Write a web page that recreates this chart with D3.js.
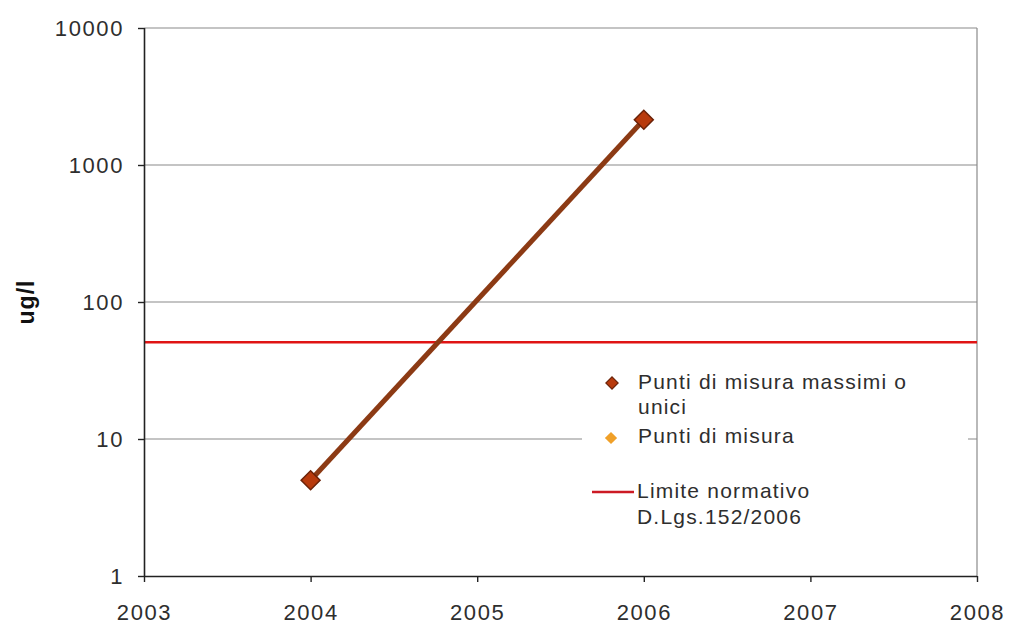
<!DOCTYPE html>
<html><head><meta charset="utf-8">
<script src="https://cdn.jsdelivr.net/npm/d3@7"></script>
<style>
html,body{margin:0;padding:0;background:#fff;}
svg{display:block;font-family:Arial,"Liberation Sans",sans-serif;}
</style></head>
<body>
<svg id="chart" width="1009" height="625"></svg>
<script>
// ---- data ----
const maxYears = [2004, 2006];
const maxValues = [5, 2140];
const otherYears = [];
const otherValues = [];
const limitValue = 50;
const xTicks = [2003, 2004, 2005, 2006, 2007, 2008];
const yTicks = [1, 10, 100, 1000, 10000];
const yTitle = "ug/l";
const legendMax = ["Punti di misura massimi o", "unici"];
const legendOther = ["Punti di misura"];
const legendLimit = ["Limite normativo", "D.Lgs.152/2006"];

const svg = d3.select("#chart");
const L = 144, R = 977, T = 28, B = 576;
const x = d3.scaleLinear().domain([2003, 2008]).range([L, R]);
const y = d3.scaleLog().domain([1, 10000]).range([B, T]);

const textCol = "#2e2e2e";
const brown = "#8c3a14";
const markerFill = "#b83a0c";
const markerStroke = "#6b2208";
const orange = "#f0a028";
const red = "#e01414";

// gridlines
svg.append("g").selectAll("line").data(yTicks.filter(d => d > 1)).join("line")
  .attr("x1", L).attr("x2", R)
  .attr("y1", d => y(d)).attr("y2", d => y(d))
  .attr("stroke", "#8a8a8a").attr("stroke-width", 1.2);
// right border
svg.append("line").attr("x1", R).attr("x2", R).attr("y1", T).attr("y2", B)
  .attr("stroke", "#8a8a8a").attr("stroke-width", 1.2);

// legend background (covers gridline)
const lg = svg.append("g");
lg.append("rect").attr("x", 582).attr("y", 362).attr("width", 386).attr("height", 173).attr("fill", "#fff");

// limit line
svg.append("line").attr("x1", L).attr("x2", R)
  .attr("y1", y(limitValue) - 1).attr("y2", y(limitValue) - 1)
  .attr("stroke", red).attr("stroke-width", 2.5);

// axes
const yAxis = d3.axisLeft(y).tickValues(yTicks).tickFormat(d3.format("d")).tickSize(6).tickPadding(14);
const gy = svg.append("g").attr("transform", `translate(${L},0)`).call(yAxis);
const xAxis = d3.axisBottom(x).tickValues(xTicks).tickFormat(d3.format("d")).tickSize(6).tickPadding(22);
const gx = svg.append("g").attr("transform", `translate(0,${B})`).call(xAxis);
[gy, gx].forEach(g => {
  g.select(".domain").attr("stroke", "#222").attr("stroke-width", 1.6);
  g.selectAll(".tick line").attr("stroke", "#222").attr("stroke-width", 1.4);
  g.selectAll(".tick text").attr("fill", textCol).attr("font-size", 22)
    .attr("font-family", "Arial, 'Liberation Sans', sans-serif").style("letter-spacing", "1.6px");
});
gx.select(".domain").attr("d", `M${L},0.5H${R}`);
gy.select(".domain").attr("d", `M0.5,${T}V${B}`);

// y title
svg.append("text").attr("transform", `translate(28,${y(100)}) rotate(-90)`)
  .attr("text-anchor", "middle").attr("dominant-baseline", "middle")
  .attr("font-weight", "bold").attr("font-size", 23).attr("fill", "#111")
  .style("letter-spacing", "1px")
  .text(yTitle);

// series line
const pts = maxYears.map((yr, i) => [yr, maxValues[i]]);
svg.append("path").datum(pts)
  .attr("d", d3.line().x(d => x(d[0])).y(d => y(d[1])))
  .attr("fill", "none").attr("stroke", brown).attr("stroke-width", 5);

const sq = d3.symbol().type(d3.symbolSquare).size(180);
svg.append("g").selectAll("path").data(pts).join("path")
  .attr("d", sq)
  .attr("transform", d => `translate(${x(d[0])},${y(d[1])}) rotate(45)`)
  .attr("fill", markerFill).attr("stroke", markerStroke).attr("stroke-width", 1.5);

const opts = otherYears.map((yr, i) => [yr, otherValues[i]]);
svg.append("g").selectAll("path").data(opts).join("path")
  .attr("d", sq)
  .attr("transform", d => `translate(${x(d[0])},${y(d[1])}) rotate(45)`)
  .attr("fill", orange);

// legend
const lsym = d3.symbol().type(d3.symbolSquare).size(75);
lg.append("path").attr("d", lsym).attr("transform", "translate(612,383) rotate(45)")
  .attr("fill", markerFill).attr("stroke", markerStroke).attr("stroke-width", 1.2);
lg.append("path").attr("d", lsym).attr("transform", "translate(611,438) rotate(45)")
  .attr("fill", orange);
lg.append("line").attr("x1", 592).attr("x2", 634).attr("y1", 492).attr("y2", 492)
  .attr("stroke", "#cc1a24").attr("stroke-width", 2.5);

function lines(arr, x0, y0, dy) {
  const t = lg.append("text").attr("fill", textCol).attr("font-size", 21)
    .style("letter-spacing", "1.2px");
  arr.forEach((s, i) => t.append("tspan").attr("x", x0).attr("y", y0 + i * dy)
    .attr("dominant-baseline", "middle").text(s));
}
lines(legendMax, 638, 383, 25);
lines(legendOther, 638, 437, 25);
lines(legendLimit, 637, 492, 26);
</script>
</body></html>
